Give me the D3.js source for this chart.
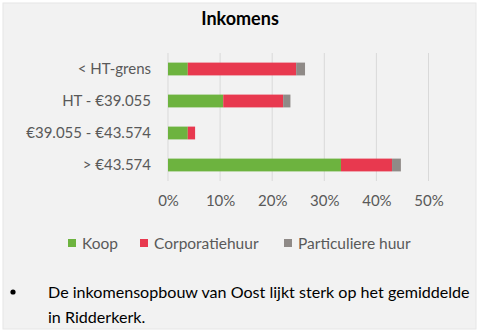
<!DOCTYPE html>
<html>
<head>
<meta charset="utf-8">
<script src="https://cdn.jsdelivr.net/npm/d3@7"></script>
<style>
  body { margin: 0; background: #fff; }
  svg { display: block; font-family: Lato, "Open Sans", sans-serif; }
</style>
</head>
<body>
<div id="chart"></div>
<script>
// Data (percentages)
const categories = ["< HT-grens", "HT - €39.055", "€39.055 - €43.574", "> €43.574"];
const seriesNames = ["Koop", "Corporatiehuur", "Particuliere huur"];
const koop = [3.8, 10.6, 3.8, 33.2];
const corporatie = [20.8, 11.5, 1.4, 9.8];
const particulier = [1.7, 1.4, 0, 1.7];
const ticks = [0, 10, 20, 30, 40, 50];
const colors = ["#6db33f", "#e8394f", "#8f8a87"];

const width = 484, height = 335;

const svg = d3.select('#chart')
    .append('svg')
    .attr('width', width)
    .attr('height', height);

// Panel background
svg.append('rect')
    .attr('x', 3).attr('y', 3)
    .attr('width', 473).attr('height', 326)
    .attr('fill', '#f2f2f2')
    .attr('stroke', '#e6e6e6');

// Title
svg.append('text')
    .attr('x', 240).attr('y', 25)
    .attr('text-anchor', 'middle')
    .style('font-size', '18px')
    .style('font-weight', 'bold')
    .attr('fill', '#000')
    .text('Inkomens');

// Scales
const xScale = d3.scaleLinear().domain([0, 50]).range([168, 428.5]);
const yScale = d3.scaleBand()
    .domain(categories)
    .range([53, 181])
    .paddingInner(0.6)
    .paddingOuter(0.3);

// Gridlines
svg.append('g')
    .selectAll('line')
    .data(ticks)
    .enter().append('line')
    .attr('x1', d => xScale(d)).attr('x2', d => xScale(d))
    .attr('y1', 53).attr('y2', 181)
    .attr('stroke', '#d9d9d9')
    .attr('stroke-width', 1);

// Stacked bars
const rows = categories.map((c, i) => ({
    cat: c,
    "Koop": koop[i],
    "Corporatiehuur": corporatie[i],
    "Particuliere huur": particulier[i]
}));
const stacked = d3.stack().keys(seriesNames)(rows);

svg.append('g')
    .selectAll('g')
    .data(stacked)
    .enter().append('g')
    .attr('fill', (d, i) => colors[i])
    .selectAll('rect')
    .data(d => d)
    .enter().append('rect')
    .attr('x', d => xScale(d[0]))
    .attr('y', d => yScale(d.data.cat))
    .attr('width', d => xScale(d[1]) - xScale(d[0]))
    .attr('height', yScale.bandwidth());

// Y axis labels
const yAxis = svg.append('g')
    .attr('transform', 'translate(168,0)')
    .call(d3.axisLeft(yScale).tickSize(0).tickPadding(17));
yAxis.select('.domain').remove();
yAxis.selectAll('text')
    .style('font-size', '15px')
    .style('font-family', 'Lato, "Open Sans", sans-serif')
    .attr('fill', '#595959');

// X axis labels
const xAxis = svg.append('g')
    .attr('transform', 'translate(0,181)')
    .call(d3.axisBottom(xScale).tickValues(ticks).tickSize(0).tickPadding(14).tickFormat(d => d + '%'));
xAxis.select('.domain').remove();
xAxis.selectAll('text')
    .style('font-size', '15px')
    .style('font-family', 'Lato, "Open Sans", sans-serif')
    .attr('fill', '#595959');

// Legend
const legendX = [68, 140, 284];
const legend = svg.append('g')
    .selectAll('g')
    .data(seriesNames)
    .enter().append('g')
    .attr('transform', (d, i) => `translate(${legendX[i]},239)`);
legend.append('rect')
    .attr('width', 8).attr('height', 8)
    .attr('fill', (d, i) => colors[i]);
legend.append('text')
    .attr('x', 14).attr('y', 9.5)
    .style('font-size', '15.5px')
    .attr('fill', '#595959')
    .text(d => d);

// Bullet text
svg.append('circle')
    .attr('cx', 13).attr('cy', 292).attr('r', 2.6)
    .attr('fill', '#000');
const line1 = svg.append('text')
    .attr('x', 48).attr('y', 298)
    .style('font-size', '16px')
    .attr('fill', '#000')
    .text('De inkomensopbouw van Oost lijkt sterk op het gemiddelde');
const line2 = svg.append('text')
    .attr('x', 48).attr('y', 323)
    .style('font-size', '16px')
    .attr('fill', '#000')
    .text('in Ridderkerk.');
// fit first line to the reference width
const w = line1.node().getComputedTextLength();
const fs = 16 * 422 / w;
line1.style('font-size', fs + 'px');
line2.style('font-size', fs + 'px');
</script>
</body>
</html>
